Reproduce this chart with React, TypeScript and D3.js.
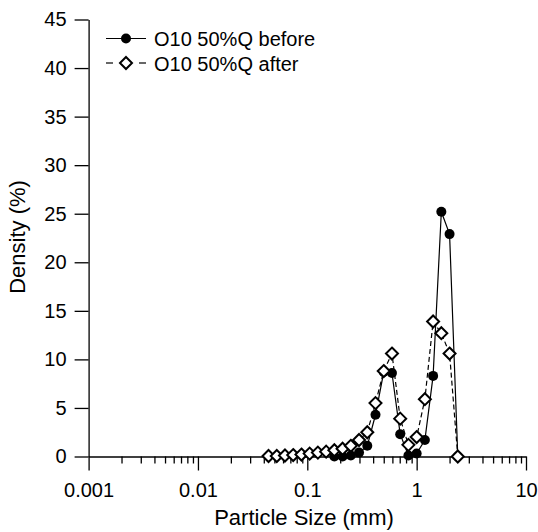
import React, { useEffect, useRef } from 'react'
import * as d3 from 'd3'

// particle sizes (mm) on the sieve grid
const sizes = [
  0.0442, 0.0526, 0.0625, 0.0743, 0.0884, 0.1051, 0.125, 0.1487,
  0.1768, 0.2102, 0.25, 0.2973, 0.3536, 0.4204, 0.5, 0.5946,
  0.7071, 0.8409, 1.0, 1.1892, 1.4142, 1.6818, 2.0, 2.3784,
]

const afterDensity = [
  0.05, 0.05, 0.1, 0.15, 0.2, 0.3, 0.4, 0.5,
  0.65, 0.8, 1.1, 1.7, 2.5, 5.5, 8.8, 10.6,
  3.9, 1.2, 2.0, 5.9, 13.9, 12.7, 10.6, 0,
]

const beforeSizes = sizes.slice(8)
const beforeDensity = [
  0, 0, 0.1, 0.4, 1.1, 4.3, 8.7, 8.6,
  2.3, 0.1, 0.3, 1.7, 8.3, 25.2, 22.9, 0,
]

const yTicks = [0, 5, 10, 15, 20, 25, 30, 35, 40, 45]
const xMajor = [0.001, 0.01, 0.1, 1, 10]
const xMajorLabels = ['0.001', '0.01', '0.1', '1', '10']
const legendLabels = ['O10 50%Q before', 'O10 50%Q after']

const width = 538
const height = 532
const font = 'Arial, "Liberation Sans", sans-serif'

const App = () => {
  const xAxisRef = useRef<SVGGElement>(null)
  const xMinorRef = useRef<SVGGElement>(null)
  const yAxisRef = useRef<SVGGElement>(null)

  const xScale = d3.scaleLog().domain([0.001, 10]).range([88.6, 526])
  const yScale = d3.scaleLinear().domain([0, 45]).range([456.5, 19.5])

  const before = beforeSizes.map((s, i) => ({ s, d: beforeDensity[i] }))
  const after = sizes.map((s, i) => ({ s, d: afterDensity[i] }))

  const line = d3.line<{ s: number; d: number }>()
    .x(p => xScale(p.s))
    .y(p => yScale(p.d))

  const minor: number[] = []
  xMajor.slice(0, -1).forEach(m => {
    for (let k = 2; k <= 9; k++) minor.push(m * k)
  })

  useEffect(() => {
    const yAxis = d3.axisLeft(yScale)
      .tickValues(yTicks)
      .tickSize(14)
      .tickSizeOuter(0)
      .tickPadding(8)
    const yg = d3.select(yAxisRef.current!).call(yAxis)
    yg.attr('font-size', 20).attr('font-family', font)
    yg.selectAll('line').attr('stroke-width', 1.3)
    yg.select('.domain').attr('stroke-width', 1.3)

    const xAxis = d3.axisBottom(xScale)
      .tickValues(xMajor)
      .tickSize(14)
      .tickSizeOuter(0)
      .tickPadding(12)
      .tickFormat((d, i) => xMajorLabels[i])
    const xg = d3.select(xAxisRef.current!).call(xAxis)
    xg.attr('font-size', 20).attr('font-family', font)
    xg.selectAll('line').attr('stroke-width', 1.3)
    xg.select('.domain').attr('stroke-width', 1.3)

    const xMinorAxis = d3.axisBottom(xScale)
      .tickValues(minor)
      .tickSize(7)
      .tickSizeOuter(0)
      .tickFormat(() => '')
    const mg = d3.select(xMinorRef.current!).call(xMinorAxis)
    mg.select('.domain').remove()
    mg.selectAll('line').attr('stroke-width', 1.3)
  }, [])

  const diamond = (cx: number, cy: number, r: number) =>
    `M${cx},${cy - r}L${cx + r},${cy}L${cx},${cy + r}L${cx - r},${cy}Z`

  return (
    <div style={{ position: 'absolute', left: 0, top: 0 }}>
      <svg width={width} height={height} style={{ display: 'block', background: '#fff' }}>
        <g ref={yAxisRef} transform="translate(88.6,0)" />
        <g ref={xAxisRef} transform="translate(0,456.5)" />
        <g ref={xMinorRef} transform="translate(0,456.5)" />

        {/* before: solid line, filled dots */}
        <path d={line(before)!} fill="none" stroke="#000" strokeWidth={1.2} />
        {before.map((p, i) => (
          <circle key={'b' + i} cx={xScale(p.s)} cy={yScale(p.d)} r={5} fill="#000" />
        ))}

        {/* after: dashed line, open diamonds */}
        <path d={line(after)!} fill="none" stroke="#000" strokeWidth={1.2} strokeDasharray="5,3" />
        {after.map((p, i) => (
          <path key={'a' + i} d={diamond(xScale(p.s), yScale(p.d), 6)} fill="#fff" stroke="#000" strokeWidth={2} />
        ))}

        {/* legend */}
        <g fontFamily={font} fontSize={20}>
          <line x1={106} x2={146} y1={38.5} y2={38.5} stroke="#000" strokeWidth={1.2} />
          <circle cx={126} cy={38.5} r={5} fill="#000" />
          <text x={154} y={46}>{legendLabels[0]}</text>
          <line x1={106} x2={113} y1={63} y2={63} stroke="#000" strokeWidth={1.2} />
          <line x1={139} x2={146} y1={63} y2={63} stroke="#000" strokeWidth={1.2} />
          <path d={diamond(126, 63, 6)} fill="#fff" stroke="#000" strokeWidth={2} />
          <text x={154} y={70.5}>{legendLabels[1]}</text>
        </g>

        {/* axis titles */}
        <text x={304} y={525} textAnchor="middle" fontFamily={font} fontSize={22}>Particle Size (mm)</text>
        <text transform="translate(25,237) rotate(-90)" textAnchor="middle" fontFamily={font} fontSize={22}>Density (%)</text>
      </svg>
    </div>
  )
}

export default App
